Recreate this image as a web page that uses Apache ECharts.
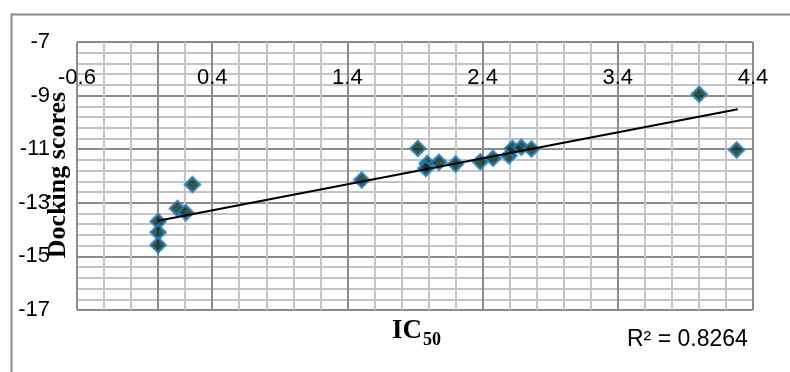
<!DOCTYPE html>
<html><head><meta charset="utf-8">
<script src="https://cdn.jsdelivr.net/npm/echarts@6/dist/echarts.min.js"></script>
<style>html,body{margin:0;padding:0;background:#fff}#c{width:790px;height:372px}</style>
</head><body><div id="c"></div>
<script>
// IC50 values (x) and docking scores (y)
const icValues   = [0, 0, 0, 0.143, 0.205, 0.254, 1.506, 1.921, 1.99, 1.98, 2.077, 2.20, 2.383, 2.477, 2.595, 2.62, 2.687, 2.761, 4.002, 4.279];
const dockScores = [-13.70, -14.10, -14.57, -13.21, -13.37, -12.32, -12.15, -10.97, -11.53, -11.72, -11.49, -11.55, -11.47, -11.34, -11.24, -10.97, -10.93, -10.99, -8.95, -11.03];
// linear trendline end points
const trendX = [0, 4.287];
const trendY = [-13.67, -9.51];
const rSquaredText = 'R² = 0.8264';
const xTitleMain = 'IC';
const xTitleSub = '50';
const yTitle = 'Docking scores';

const minorColor = '#c4c4c4';
const majorColor = '#8c8c8c';
const tickFont = { color: '#000', fontSize: 22, fontFamily: 'Liberation Sans' };

const scatterData = icValues.map((x, i) => [x, dockScores[i]]);
const trendData = trendX.map((x, i) => [x, trendY[i]]);

const chart = echarts.init(document.getElementById('c'), null, { renderer: 'canvas' });
chart.setOption({
  animation: false,
  grid: { left: 77, top: 42, right: 37, bottom: 62, containLabel: false },
  xAxis: [
    { type: 'value', min: -0.6, max: 4.4, interval: 0.2, position: 'top',
      axisLine: { show: false, onZero: false }, axisTick: { show: false }, axisLabel: { show: false },
      splitLine: { show: true, lineStyle: { color: minorColor, width: 2 } } },
    { type: 'value', min: -0.6, max: 4.4, interval: 1, position: 'top',
      axisLine: { show: false, onZero: false }, axisTick: { show: false },
      axisLabel: Object.assign({ show: true, inside: true, margin: 25 }, tickFont),
      splitLine: { show: true, lineStyle: { color: majorColor, width: 2 } } }
  ],
  yAxis: [
    { type: 'value', min: -17, max: -7, interval: 0.4, position: 'left',
      axisLine: { show: false, onZero: false }, axisTick: { show: false }, axisLabel: { show: false },
      splitLine: { show: true, lineStyle: { color: minorColor, width: 2 } } },
    { type: 'value', min: -17, max: -7, interval: 2, position: 'left',
      axisLine: { show: true, onZero: true, onZeroAxisIndex: 1, lineStyle: { color: majorColor, width: 2 } },
      axisTick: { show: false },
      axisLabel: Object.assign({ show: true, margin: 27 }, tickFont),
      splitLine: { show: true, lineStyle: { color: majorColor, width: 2 } } }
  ],
  series: [
    { type: 'scatter', xAxisIndex: 1, yAxisIndex: 1, data: scatterData,
      symbol: 'diamond', symbolSize: 15, z: 3,
      itemStyle: { color: '#082a12', borderColor: '#1f80c8', borderWidth: 2.5 } },
    { type: 'line', xAxisIndex: 1, yAxisIndex: 1, data: trendData, z: 4,
      showSymbol: false, symbol: 'none', silent: true,
      lineStyle: { color: '#000', width: 2 } }
  ],
  graphic: [
    { type: 'rect', left: 9, top: 12, silent: true, z: -10,
      shape: { x: 0, y: 0, width: 900, height: 500 },
      style: { fill: 'none', stroke: '#8a8a8a', lineWidth: 2 } },
    { type: 'text', x: 58, y: 175, rotation: Math.PI / 2, silent: true,
      style: { text: yTitle, font: 'bold 26px "Liberation Serif"', fill: '#000',
               align: 'center', verticalAlign: 'middle', textAlign: 'center', textVerticalAlign: 'middle' } },
    { type: 'text', x: 392, y: 331, silent: true,
      style: { text: xTitleMain, font: 'bold 27px "Liberation Serif"', fill: '#000',
               align: 'left', verticalAlign: 'middle', textAlign: 'left', textVerticalAlign: 'middle' } },
    { type: 'text', x: 423, y: 340, silent: true,
      style: { text: xTitleSub, font: 'bold 18px "Liberation Serif"', fill: '#000',
               align: 'left', verticalAlign: 'middle', textAlign: 'left', textVerticalAlign: 'middle' } },
    { type: 'text', x: 627, y: 340, silent: true,
      style: { text: rSquaredText, font: '23px "Liberation Sans"', fill: '#000',
               align: 'left', verticalAlign: 'middle', textAlign: 'left', textVerticalAlign: 'middle' } }
  ]
});
</script>
</body></html>
